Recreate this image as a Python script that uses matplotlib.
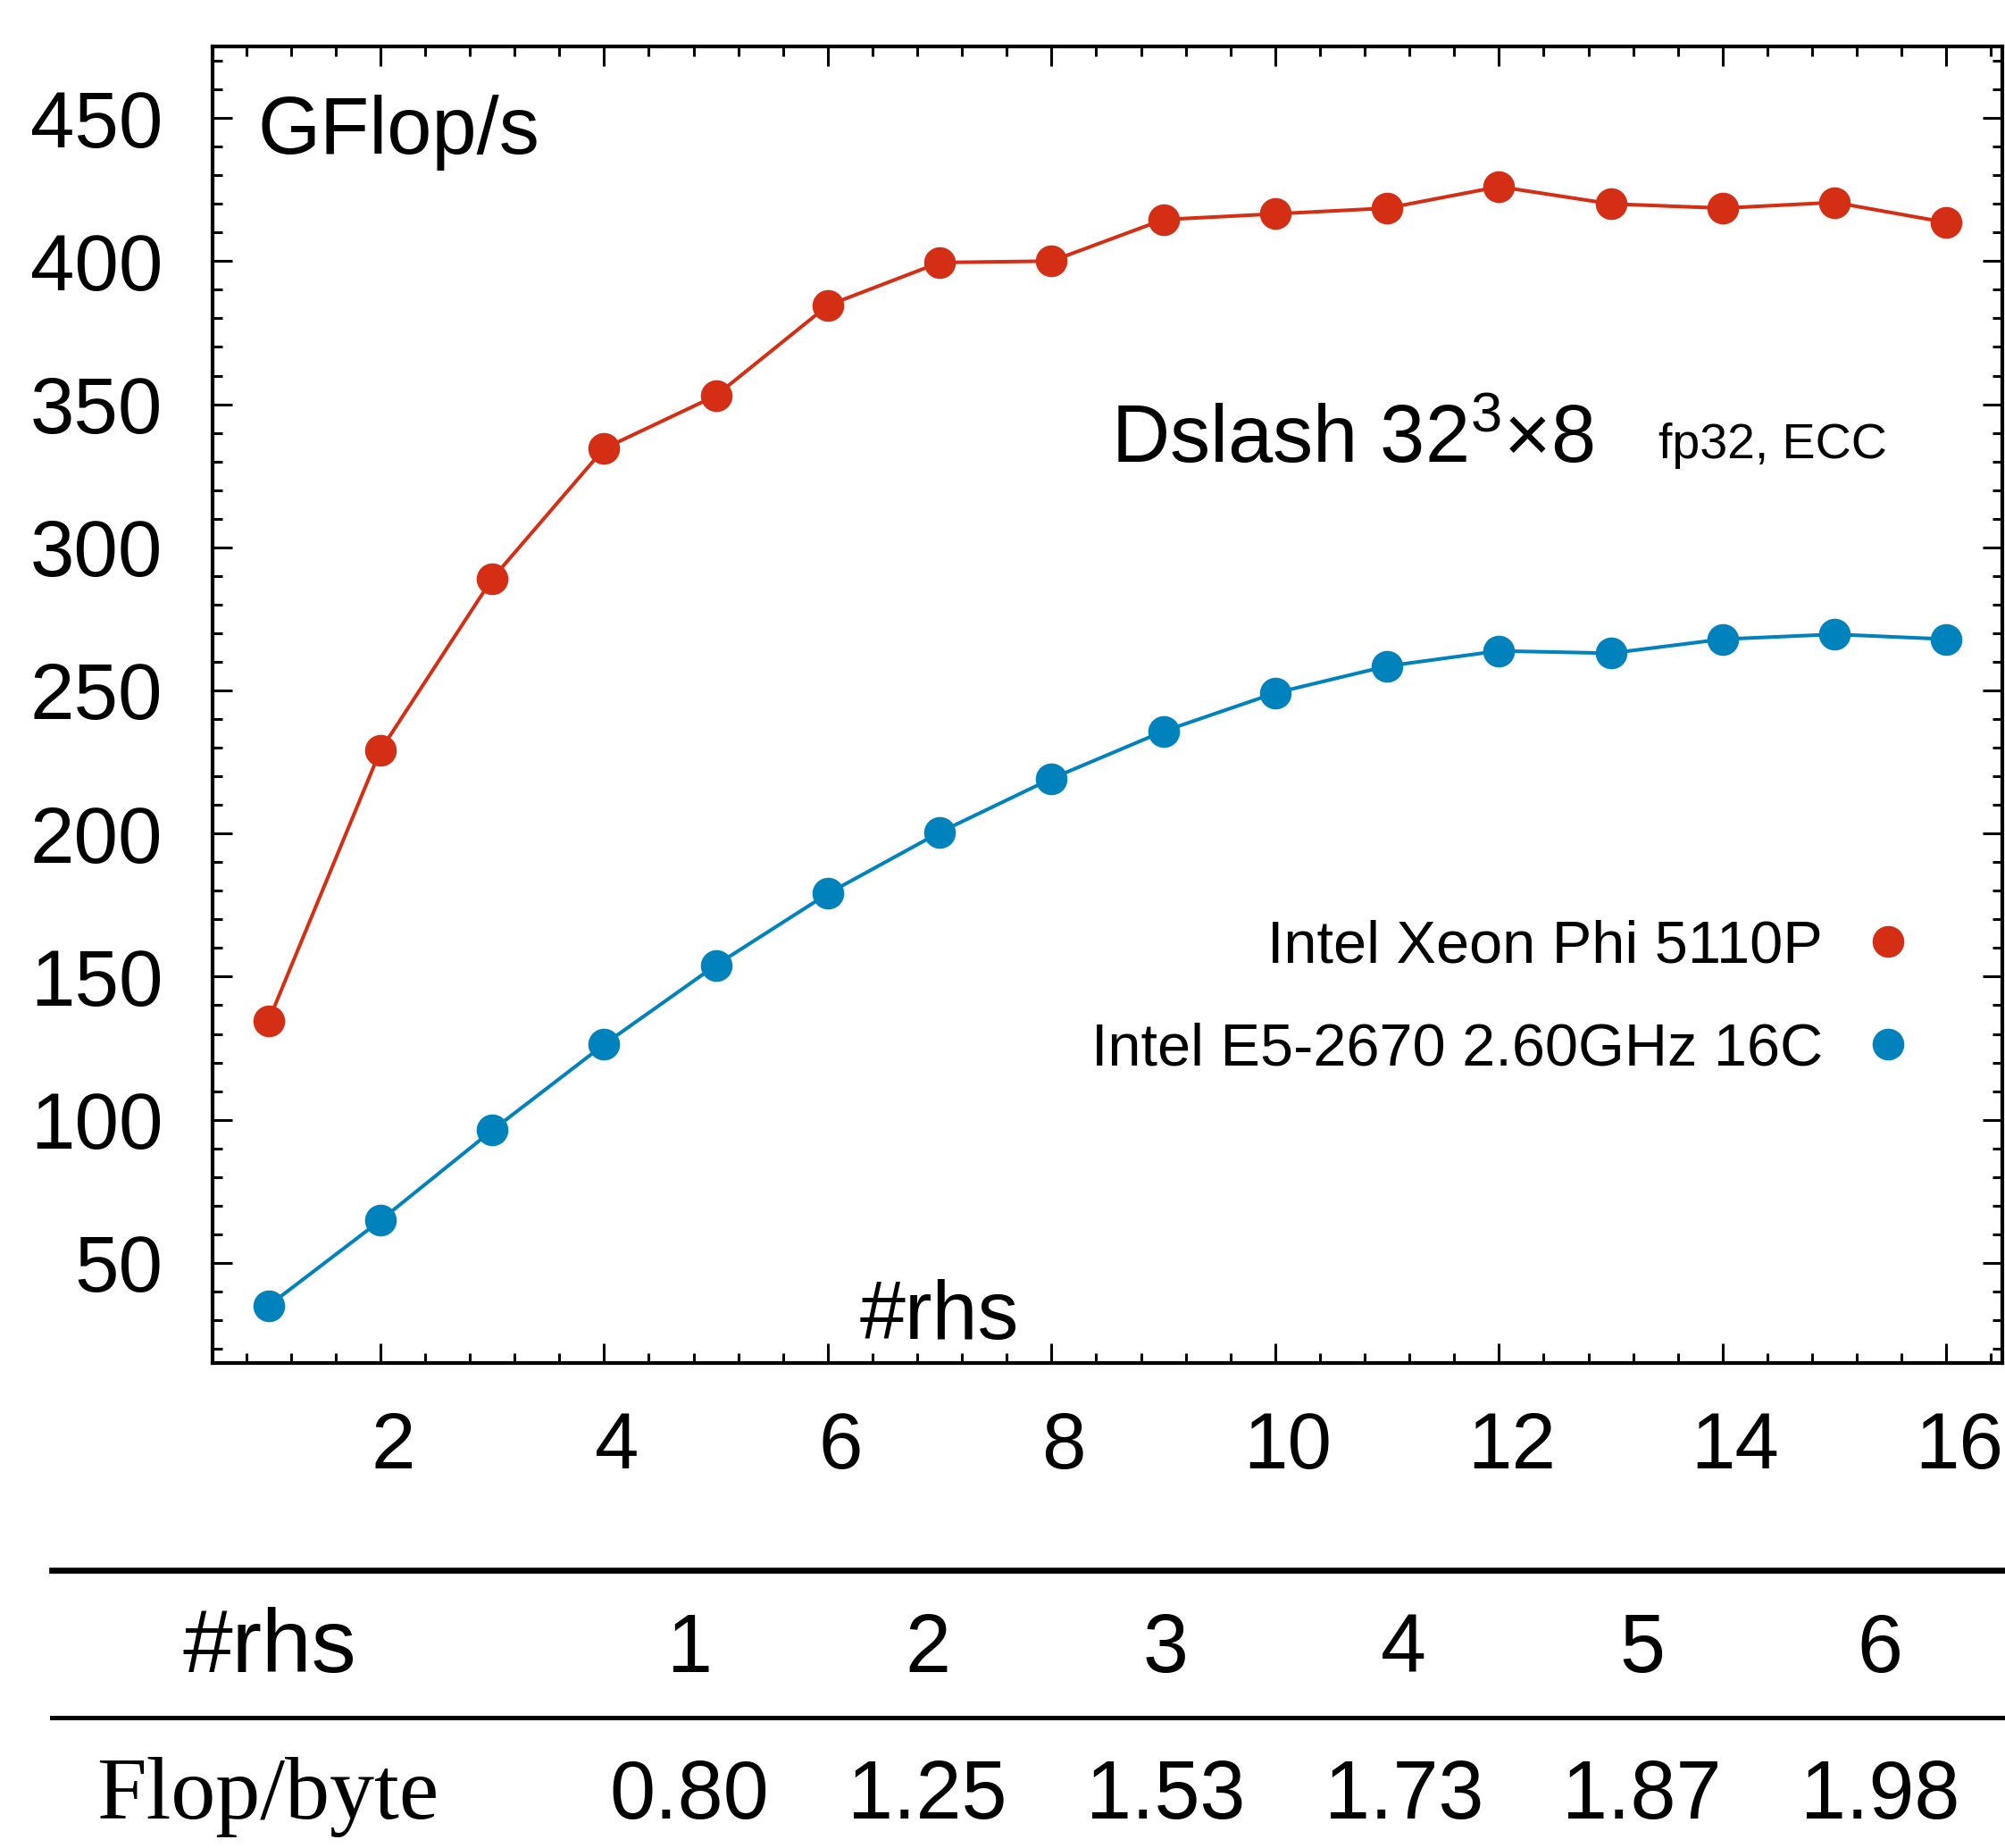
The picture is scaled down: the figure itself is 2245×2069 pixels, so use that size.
import numpy as np
import matplotlib
matplotlib.use("Agg")
import matplotlib.pyplot as plt
from matplotlib.lines import Line2D
from matplotlib.ticker import MultipleLocator
from matplotlib.transforms import ScaledTranslation

plt.rcParams['font.family'] = ['Liberation Sans', 'DejaVu Sans']
plt.rcParams['mathtext.fontset'] = 'custom'
plt.rcParams['mathtext.rm'] = 'Liberation Sans'
plt.rcParams['mathtext.it'] = 'Liberation Sans:italic'

# data
rhs = np.arange(1, 17)
xeon_phi = [134.5, 229, 289, 334.5, 353, 384.5, 399.5, 400, 414.5, 416.5,
            418.5, 426, 420, 418.5, 420.5, 413.5]
e5_2670 = [35, 64.8, 96.3, 126.3, 154, 179, 200.4, 219.2, 235.7, 249.1,
           258.5, 263.8, 263, 267.9, 269.6, 267.9]
labels = ['Intel Xeon Phi 5110P', 'Intel E5-2670 2.60GHz 16C']

# table under the plot
table_rhs = ['1', '2', '3', '4', '5', '6']
flop_per_byte = ['0.80', '1.25', '1.53', '1.73', '1.87', '1.98']

red = '#d42f14'
blue = '#0082bd'

W, H, dpi = 2245, 2069, 200
fig = plt.figure(figsize=(W / dpi, H / dpi), dpi=dpi)

# axes box in pixels: left 238, right 2242, top 52, bottom 1526
ax = fig.add_axes([238 / W, 1 - 1526 / H, (2242 - 238) / W, (1526 - 52) / H])

ax.plot(rhs, xeon_phi, '-o', color=red, lw=1.45, ms=11.8)
ax.plot(rhs, e5_2670, '-o', color=blue, lw=1.45, ms=11.8)

ax.set_xlim(0.5, 16.5)
ax.set_ylim(15, 475)
ax.set_xticks(np.arange(2, 17, 2))
ax.set_yticks(np.arange(50, 451, 50))
ax.xaxis.set_minor_locator(MultipleLocator(0.4))
ax.yaxis.set_minor_locator(MultipleLocator(10))

for s in ax.spines.values():
    s.set_linewidth(1.5)
ax.tick_params(which='both', direction='in', top=True, right=True, width=1.1)
ax.tick_params(which='major', length=7.9, labelsize=32)
ax.tick_params(which='minor', length=4)
ax.tick_params(axis='x', pad=19)
ax.tick_params(axis='y', pad=20)

# x tick labels sit a bit right of their ticks
for lab in ax.get_xticklabels():
    lab.set_transform(lab.get_transform() + ScaledTranslation(14 / dpi, 0, fig.dpi_scale_trans))

ax.text(0.025, 0.9186, 'GFlop/s', transform=ax.transAxes, fontsize=32.5, va='baseline')
ax.text(0.502, 0.6839, 'Dslash 32$^{3}$×8', transform=ax.transAxes, fontsize=32.5, va='baseline')
ax.text(0.808, 0.6872, 'fp32, ECC', transform=ax.transAxes, fontsize=20, va='baseline')
ax.text(0.3618, 0.0183, '#rhs', transform=ax.transAxes, fontsize=33, va='baseline')

handles = [Line2D([], [], ls='none', marker='o', color=red, ms=11.8),
           Line2D([], [], ls='none', marker='o', color=blue, ms=11.8)]
ax.legend(handles, labels, loc='center right', bbox_to_anchor=(0.953, 0.2769),
          frameon=False, markerfirst=False, fontsize=24, handlelength=1,
          handletextpad=0.6, labelspacing=0.8, borderpad=0, borderaxespad=0)

# table
fig.add_artist(Line2D([58 / W, 2242 / W], [1 - 1758 / H, 1 - 1758 / H], color='black', lw=2.4))
fig.add_artist(Line2D([58 / W, 2242 / W], [1 - 1923 / H, 1 - 1923 / H], color='black', lw=1.8))

fig.text(302 / W, 1 - 1872 / H, '#rhs', fontsize=36, ha='center', va='baseline')
fig.text(300 / W, 1 - 2036 / H, 'Flop/byte', fontsize=36, ha='center', va='baseline',
         family='Liberation Serif')
col_x = np.linspace(772, 2105, len(table_rhs)) / W
for cx, a, b in zip(col_x, table_rhs, flop_per_byte):
    fig.text(cx, 1 - 1872 / H, a, fontsize=33, ha='center', va='baseline')
    fig.text(cx, 1 - 2036 / H, b, fontsize=33, ha='center', va='baseline')

fig.savefig('out.png', dpi=dpi)
